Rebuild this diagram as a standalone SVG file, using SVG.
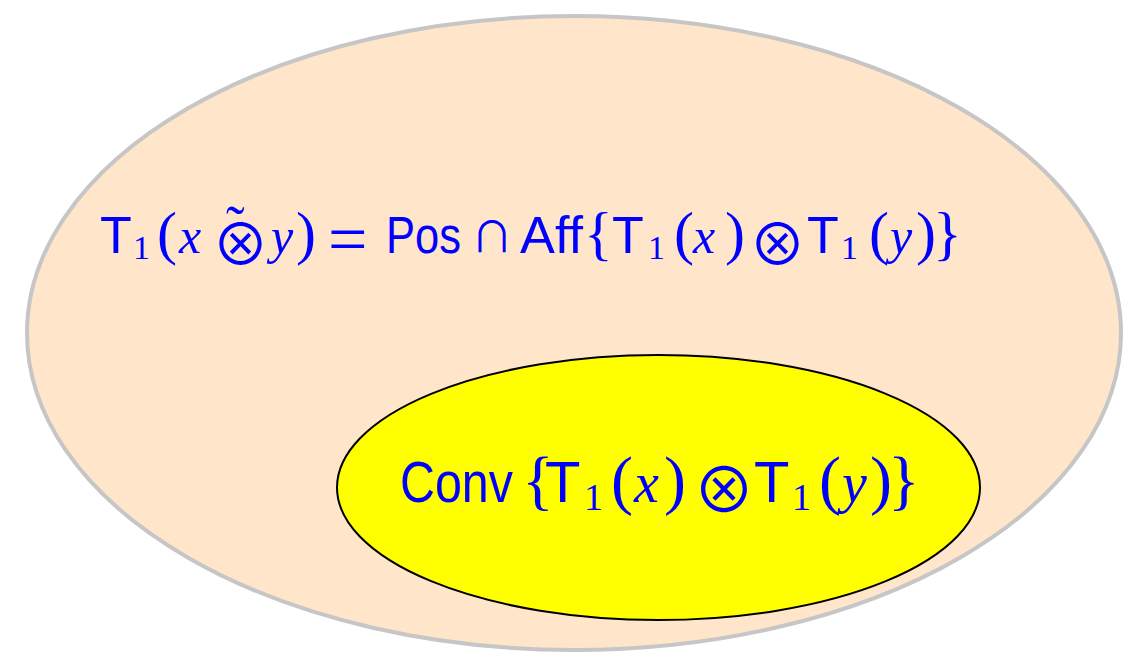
<svg xmlns="http://www.w3.org/2000/svg" width="1135" height="652" viewBox="0 0 1135 652">
<style>
text{fill:#0000ff}
.s1{font-family:"Liberation Sans",Arial,sans-serif;font-size:52px}
.s2{font-family:"Liberation Sans",Arial,sans-serif;font-size:58px}
.sub1{font-family:"Liberation Serif","Times New Roman",serif;font-size:34px}
.sub2{font-family:"Liberation Serif","Times New Roman",serif;font-size:38px}
.p1{font-family:"Liberation Serif","Times New Roman",serif;font-size:60px}
.p2{font-family:"Liberation Serif","Times New Roman",serif;font-size:66px}
.i1{font-family:"Liberation Serif","Times New Roman",serif;font-size:50px;font-style:italic}
.i2{font-family:"Liberation Serif","Times New Roman",serif;font-size:56px;font-style:italic}
.o1{font-family:"Noto Sans CJK JP","DejaVu Sans",sans-serif;font-size:57px}
.o2{font-family:"Noto Sans CJK JP","DejaVu Sans",sans-serif;font-size:62px}
</style>
<g id="outer">
<ellipse cx="574" cy="333" rx="547" ry="317" fill="#ffe5c9" stroke="#c6c6c6" stroke-width="4"/>
</g>
<g id="inner">
<ellipse cx="658.5" cy="487.5" rx="321.5" ry="132.5" fill="#ffff00" stroke="#000000" stroke-width="2"/>
</g>
<g id="label-outer">
<text class="s1" x="100" y="253">T</text>
<text class="sub1" x="133" y="259">1</text>
<text class="p1" x="157" y="253">(</text>
<text class="i1" x="179" y="253">x</text>
<text class="p1" x="226" y="245" style="font-size:56px">˜</text>
<text class="o1" x="212" y="265">⊗</text>
<text class="i1" x="271" y="253">y</text>
<text class="p1" x="296" y="253">)</text>
<text class="p1" x="328" y="263" style="font-size:70px">=</text>
<text class="s1" x="386" y="253" textLength="75" lengthAdjust="spacingAndGlyphs">Pos</text>
<text class="o1" x="471" y="252" style="font-size:42px">∩</text>
<text class="s1" x="520" y="253" textLength="63" lengthAdjust="spacingAndGlyphs">Aff</text>
<text class="p1" x="584" y="253">{</text>
<text class="s1" x="612" y="253">T</text>
<text class="sub1" x="648" y="259">1</text>
<text class="p1" x="674" y="253">(</text>
<text class="i1" x="693" y="253">x</text>
<text class="p1" x="725" y="253">)</text>
<text class="o1" x="749" y="265">⊗</text>
<text class="s1" x="807" y="253">T</text>
<text class="sub1" x="841" y="259">1</text>
<text class="p1" x="869" y="253">(</text>
<text class="i1" x="890" y="253">y</text>
<text class="p1" x="916" y="253">)</text>
<text class="p1" x="933" y="253">}</text>
</g>
<g id="label-inner">
<text class="s2" x="400" y="502" textLength="113" lengthAdjust="spacingAndGlyphs">Conv</text>
<text class="p2" x="522" y="502">{</text>
<text class="s2" x="545" y="502">T</text>
<text class="sub2" x="584" y="510">1</text>
<text class="p2" x="611" y="502">(</text>
<text class="i2" x="634" y="502">x</text>
<text class="p2" x="664" y="502">)</text>
<text class="o2" x="693" y="513">⊗</text>
<text class="s2" x="754" y="502">T</text>
<text class="sub2" x="792" y="510">1</text>
<text class="p2" x="819" y="502">(</text>
<text class="i2" x="842" y="502">y</text>
<text class="p2" x="870" y="502">)</text>
<text class="p2" x="888" y="502">}</text>
</g>
<g id="connectors"/>
</svg>
